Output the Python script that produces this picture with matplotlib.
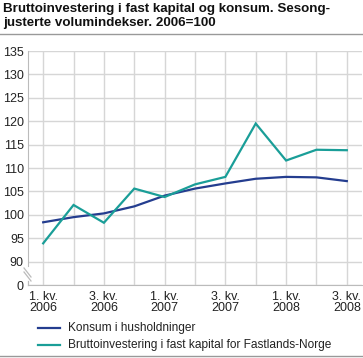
import matplotlib
matplotlib.use("Agg")
import matplotlib.pyplot as plt
from matplotlib.lines import Line2D

plt.rcParams['font.family'] = ['Liberation Sans', 'DejaVu Sans']

quarters = ["1. kv.\n2006", "2. kv.\n2006", "3. kv.\n2006", "4. kv.\n2006",
            "1. kv.\n2007", "2. kv.\n2007", "3. kv.\n2007", "4. kv.\n2007",
            "1. kv.\n2008", "2. kv.\n2008", "3. kv.\n2008"]
konsum = [98.4, 99.5, 100.3, 101.8, 104.1, 105.6, 106.7, 107.7, 108.1, 108.0, 107.2]
brutto = [93.9, 102.1, 98.3, 105.6, 103.8, 106.5, 108.1, 119.5, 111.6, 113.9, 113.8]
ytick_vals = [85, 90, 95, 100, 105, 110, 115, 120, 125, 130, 135]
ytick_labels = ["0", "90", "95", "100", "105", "110", "115", "120", "125", "130", "135"]
label_konsum = "Konsum i husholdninger"
label_brutto = "Bruttoinvestering i fast kapital for Fastlands-Norge"
title = "Bruttoinvestering i fast kapital og konsum. Sesong-\njusterte volumindekser. 2006=100"

W, H = 363, 358
fig = plt.figure(figsize=(W/100, H/100), dpi=100)
ax = fig.add_axes([28/W, 1-285/H, 334/W, 234/H])

x = list(range(len(quarters)))
c_blue = '#243d8f'
c_teal = '#1a9e98'
grid_c = '#d6d6d6'

ax.plot(x, konsum, color=c_blue, lw=1.6, solid_joinstyle='round', zorder=3)
ax.plot(x, brutto, color=c_teal, lw=1.6, solid_joinstyle='miter', zorder=3)

ax.set_xlim(-0.5, 10.5)
ax.set_ylim(85, 135)
ax.set_yticks(ytick_vals)
ax.set_yticklabels(ytick_labels, fontsize=9, color='#222222')
ax.set_xticks(x)
ax.set_xticklabels([q if i % 2 == 0 else "" for i, q in enumerate(quarters)],
                   fontsize=9, color='#222222', linespacing=0.95)
ax.tick_params(axis='both', length=0, pad=3)
ax.tick_params(axis='x', pad=4)
ax.grid(True, color=grid_c, lw=1.0)
ax.set_axisbelow(True)
for s in ['top', 'right']:
    ax.spines[s].set_visible(False)
ax.spines['left'].set_color('#bbbbbb')
ax.spines['bottom'].set_color('#bbbbbb')
ax.spines['left'].set_bounds(89, 135)

# axis break marks
fig.add_artist(Line2D([24/W, 31/W], [1-268/H, 1-277/H], color='#bbbbbb', lw=0.9))
fig.add_artist(Line2D([24/W, 31/W], [1-272/H, 1-281/H], color='#bbbbbb', lw=0.9))
fig.add_artist(Line2D([28/W, 28/W], [1-281/H, 1-285/H], color='#bbbbbb', lw=0.9))

# title
fig.text(3/W, 1-3/H, title, fontsize=9.6, fontweight='bold', va='top', ha='left',
         color='#111111', linespacing=1.2)
fig.add_artist(Line2D([0, 1], [1-34/H, 1-34/H], color='#999999', lw=1.0))

# legend
for yy, col, lab in [(328, c_blue, label_konsum), (345, c_teal, label_brutto)]:
    fig.add_artist(Line2D([38/W, 60/W], [1-yy/H, 1-yy/H], color=col, lw=1.6))
    fig.text(68/W, 1-yy/H, lab, fontsize=8.6, va='center', ha='left', color='#222222')
fig.add_artist(Line2D([0, 1], [1-356/H, 1-356/H], color='#999999', lw=1.0))

fig.savefig("out.png", dpi=100)
